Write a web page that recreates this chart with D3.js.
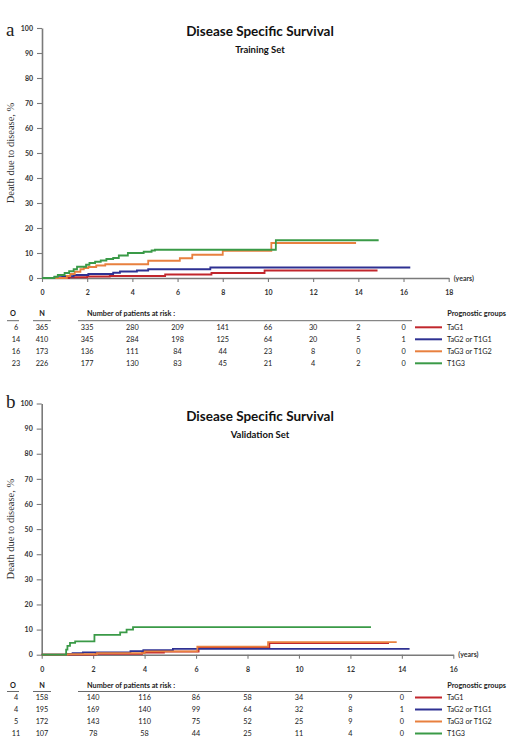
<!DOCTYPE html>
<html><head><meta charset="utf-8">
<script src="https://cdnjs.cloudflare.com/ajax/libs/d3/7.8.5/d3.min.js"></script>
<style>
html,body{margin:0;padding:0;background:#fff;}
svg{display:block;}
</style></head>
<body>
<script>
// ---------------- DATA ----------------
const groups = ["TaG1", "TaG2 or T1G1", "TaG3 or T1G2", "T1G3"];
const yTicks = [0, 10, 20, 30, 40, 50, 60, 70, 80, 90, 100];
const xTicksA = [0, 2, 4, 6, 8, 10, 12, 14, 16, 18];
const xTicksB = [0, 2, 4, 6, 8, 10, 12, 14, 16];
const riskTimesA = [2, 4, 6, 8, 10, 12, 14, 16];
const riskTimesB = [2, 4, 6, 8, 10, 12, 14];

const observedA = [6, 14, 16, 23];
const totalA = [365, 410, 173, 226];
const atRiskA_TaG1 = [335, 280, 209, 141, 66, 30, 2, 0];
const atRiskA_TaG2 = [345, 284, 198, 125, 64, 20, 5, 1];
const atRiskA_TaG3 = [136, 111, 84, 44, 23, 8, 0, 0];
const atRiskA_T1G3 = [177, 130, 83, 45, 21, 4, 2, 0];

const observedB = [4, 4, 5, 11];
const totalB = [158, 195, 172, 107];
const atRiskB_TaG1 = [140, 116, 86, 58, 34, 9, 0];
const atRiskB_TaG2 = [169, 140, 99, 64, 32, 8, 1];
const atRiskB_TaG3 = [143, 110, 75, 52, 25, 9, 0];
const atRiskB_T1G3 = [78, 58, 44, 25, 11, 4, 0];

// cumulative death due to disease (%), step points [years, %]
const curveA_TaG1 = [[0,0],[1.2,0.3],[2.0,0.6],[3.0,0.8],[5.45,1.4],[7.5,2.0],[9.85,3.0],[14.85,3.0]];
const curveA_TaG2 = [[0,0],[0.55,0.3],[0.9,0.7],[1.4,1.2],[2.05,1.6],[3.15,2.1],[3.45,2.6],[4.2,3.0],[4.7,3.5],[7.45,4.2],[16.3,4.2]];
const curveA_TaG3 = [[0,0],[1.1,0.8],[1.25,1.6],[1.45,2.5],[1.7,3.5],[1.85,4.0],[2.05,4.4],[2.4,5.0],[2.8,5.5],[4.7,6.9],[6.1,7.9],[6.65,9.3],[8.0,10.9],[10.15,14.0],[13.9,14.0]];
const curveA_T1G3 = [[0,0],[0.3,0],[0.55,0.5],[0.7,1.2],[1.0,2.0],[1.2,2.7],[1.4,3.5],[1.55,4.5],[1.95,5.3],[2.1,6.0],[2.35,6.5],[2.6,7.0],[2.85,7.6],[3.15,8.0],[3.4,9.0],[3.8,10.0],[4.5,10.5],[4.85,11.0],[5.0,11.3],[10.35,15.1],[14.9,15.1]];

const curveB_TaG1 = [[0,0],[2.1,0.3],[3.9,0.8],[4.75,1.2],[6.1,2.8],[8.85,4.6],[13.5,4.6]];
const curveB_TaG2 = [[0,0],[0.97,0.3],[1.2,0.6],[1.6,0.9],[3.45,1.4],[3.95,1.8],[5.1,2.3],[14.3,2.3]];
const curveB_TaG3 = [[0,0],[1.0,0.2],[2.15,0.6],[4.0,1.3],[6.05,3.2],[8.8,5.0],[13.8,5.0]];
const curveB_T1G3 = [[0,0],[0.9,0],[0.95,2.0],[1.0,3.5],[1.1,4.7],[1.3,5.3],[2.05,7.9],[3.05,8.9],[3.3,10.0],[3.55,11.0],[12.8,11.0]];

// ---------------- STYLE ----------------
const colors = ["#c1272d", "#2e3192", "#e8803f", "#3a9a47"];
const SANS = "Lato, 'Open Sans', sans-serif";
const SERIF = "'Liberation Serif', 'DejaVu Serif', serif";

const svg = d3.select("body").append("svg").attr("width", 513).attr("height", 753);

function panel(cfg) {
  const g = svg.append("g");
  const x = d3.scaleLinear().domain(cfg.xDomain).range(cfg.xRange);
  const y = d3.scaleLinear().domain([0, 100]).range(cfg.yRange);

  // panel letter
  g.append("text").attr("x", 6).attr("y", cfg.letterY).attr("font-family", SERIF)
    .attr("font-size", 19).attr("fill", "#222").text(cfg.letter);

  // titles
  g.append("text").attr("x", 260).attr("y", cfg.titleY).attr("text-anchor", "middle")
    .attr("font-family", SANS).attr("font-weight", "bold").attr("font-size", 13.5).attr("fill", "#111")
    .text("Disease Specific Survival");
  g.append("text").attr("x", 260).attr("y", cfg.titleY + 17).attr("text-anchor", "middle")
    .attr("font-family", SANS).attr("font-weight", "bold").attr("font-size", 9.5).attr("fill", "#111")
    .text(cfg.subtitle);

  // y axis label
  const yMid = (cfg.yRange[0] + cfg.yRange[1]) / 2;
  g.append("text").attr("transform", `translate(14,${yMid}) rotate(-90)`).attr("text-anchor", "middle")
    .attr("font-family", SERIF).attr("font-size", 10.5).attr("fill", "#333")
    .text("Death due to disease, %");

  // axes
  const ya = g.append("g").attr("transform", `translate(${cfg.xRange[0]},0)`)
    .call(d3.axisLeft(y).tickValues(yTicks).tickSize(5).tickPadding(4).tickSizeOuter(0));
  const xa = g.append("g").attr("transform", `translate(0,${cfg.yRange[0]})`)
    .call(d3.axisBottom(x).tickValues(cfg.xTicks).tickSize(4).tickPadding(8).tickSizeOuter(0));
  [ya, xa].forEach(a => {
    a.select(".domain").attr("stroke", "#7a7a7a").attr("stroke-width", 1.6);
    a.selectAll(".tick line").attr("stroke", "#7a7a7a").attr("stroke-width", 1.1);
    a.selectAll(".tick text").attr("font-family", SANS).attr("font-weight", "bold")
      .attr("font-size", 7).attr("fill", "#333");
  });
  g.append("text").attr("x", x(cfg.xDomain[1]) + 5).attr("y", cfg.yRange[0] + 2.5)
    .attr("font-family", SANS).attr("font-weight", "bold").attr("font-size", 7).attr("fill", "#333")
    .text("(years)");

  // curves
  const line = d3.line().curve(d3.curveStepAfter).x(d => x(d[0])).y(d => y(d[1]));
  cfg.curves.forEach((c, i) => {
    g.append("path").datum(c).attr("d", line).attr("fill", "none")
      .attr("stroke", colors[i]).attr("stroke-width", 1.8);
  });

  // risk table
  const hy = cfg.headerY;
  const fs = 7.3;
  const head = (tx, ty, t, anchor) => g.append("text").attr("x", tx).attr("y", ty)
    .attr("text-anchor", anchor || "middle").attr("font-family", SANS).attr("font-weight", "bold")
    .attr("font-size", fs).attr("fill", "#222").text(t);
  head(13, hy, "O");
  head(42, hy, "N");
  head(87, hy, "Number of patients at risk :", "start");
  head(506, hy, "Prognostic groups", "end");
  const ul = (x1, x2) => g.append("line").attr("x1", x1).attr("x2", x2)
    .attr("y1", cfg.ulY).attr("y2", cfg.ulY).attr("stroke", "#444").attr("stroke-width", 0.8);
  ul(7, 19); ul(33, 51); ul(78, 412);

  cfg.rows.forEach((r, i) => {
    const ry = cfg.rowY0 + i * 12;
    const txt = (tx, t, anchor, weight) => g.append("text").attr("x", tx).attr("y", ry + 2.6)
      .attr("text-anchor", anchor || "middle").attr("font-family", SANS).attr("font-weight", weight || "normal")
      .attr("font-size", fs).attr("fill", "#222").text(t);
    txt(16, cfg.observed[i]);
    txt(42, cfg.total[i]);
    r.forEach((v, j) => txt(x(cfg.riskTimes[j]), v));
    g.append("line").attr("x1", 415).attr("x2", 442).attr("y1", ry).attr("y2", ry)
      .attr("stroke", colors[i]).attr("stroke-width", 2);
    txt(447, groups[i], "start");
  });
}

panel({
  letter: "a", letterY: 36, titleY: 36, subtitle: "Training Set",
  xDomain: [0, 18], xRange: [42, 448.7], yRange: [278, 28], xTicks: xTicksA,
  curves: [curveA_TaG1, curveA_TaG2, curveA_TaG3, curveA_T1G3],
  headerY: 315.5, ulY: 320.7, rowY0: 327.3, riskTimes: riskTimesA,
  observed: observedA, total: totalA,
  rows: [atRiskA_TaG1, atRiskA_TaG2, atRiskA_TaG3, atRiskA_T1G3]
});

panel({
  letter: "b", letterY: 408, titleY: 421, subtitle: "Validation Set",
  xDomain: [0, 16], xRange: [41.7, 453.3], yRange: [654.7, 403.5], xTicks: xTicksB,
  curves: [curveB_TaG1, curveB_TaG2, curveB_TaG3, curveB_T1G3],
  headerY: 687.5, ulY: 691.5, rowY0: 697.5, riskTimes: riskTimesB,
  observed: observedB, total: totalB,
  rows: [atRiskB_TaG1, atRiskB_TaG2, atRiskB_TaG3, atRiskB_T1G3]
});
</script>
</body></html>
